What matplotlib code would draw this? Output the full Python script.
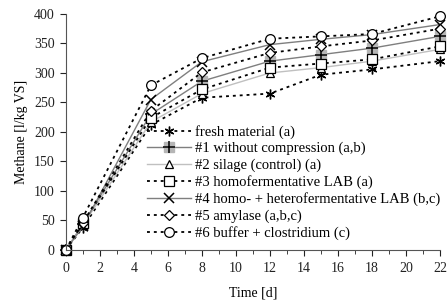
import matplotlib
matplotlib.use("Agg")
import matplotlib.pyplot as plt
from matplotlib.ticker import MultipleLocator
from matplotlib.legend_handler import HandlerTuple

plt.rcParams['font.family'] = ['Liberation Serif', 'DejaVu Serif']

days = [0, 1, 5, 8, 12, 15, 18, 22]
fresh = [0, 38, 212, 258, 265, 297, 306, 320]
no_comp = [0, 44, 230, 286, 320, 331, 342, 362]
silage = [0, 42, 217, 265, 300, 309, 320, 340]
homo = [0, 45, 224, 272, 309, 316, 323, 345]
homo_hetero = [0, 40, 255, 319, 348, 357, 365, 382]
amylase = [0, 46, 236, 301, 334, 345, 355, 375]
buffer = [0, 55, 279, 325, 358, 362, 366, 396]

labels = ["fresh material (a)", "#1 without compression (a,b)", "#2 silage (control) (a)",
          "#3 homofermentative LAB (a)", "#4 homo- + heterofermentative LAB (b,c)",
          "#5 amylase (a,b,c)", "#6 buffer + clostridium (c)"]

fig = plt.figure(figsize=(4.48, 3.03), dpi=100)
ax = fig.add_axes([0.147, 0.175, 0.835, 0.779])

dot = (0, (1.6, 2.2))
ms = 6
common = dict(clip_on=False, markerfacecolor='white', markeredgecolor='black', markeredgewidth=0.9)

h0, = ax.plot(days, fresh, color='black', ls=dot, lw=1.3, marker=(6, 2, 0), ms=7, clip_on=False,
              markeredgecolor='black', markeredgewidth=1.0)
h1a, = ax.plot(days, no_comp, color='#7f7f7f', ls='-', lw=1.0, marker='s', ms=6.5, clip_on=False,
               markerfacecolor='#b5b5b5', markeredgecolor='#b5b5b5')
h1b, = ax.plot(days, no_comp, ls='none', marker='+', ms=8, clip_on=False,
               markeredgecolor='black', markeredgewidth=1.1)
h2, = ax.plot(days, silage, color='#c0c0c0', ls='-', lw=1.0, marker='^', ms=ms, **common)
h3, = ax.plot(days, homo, color='black', ls=dot, lw=1.3, marker='s', ms=ms + 0.5, **common)
h4, = ax.plot(days, homo_hetero, color='#7f7f7f', ls='-', lw=1.0, marker='x', ms=7, clip_on=False,
              markeredgecolor='black', markeredgewidth=1.1)
h5, = ax.plot(days, amylase, color='black', ls=dot, lw=1.3, marker='D', ms=5, **common)
h6, = ax.plot(days, buffer, color='black', ls=dot, lw=1.3, marker='o', ms=ms + 1, **common)

ax.set_xlim(0, 22)
ax.set_ylim(0, 400)
ax.xaxis.set_major_locator(MultipleLocator(2))
ax.xaxis.set_minor_locator(MultipleLocator(1))
ax.yaxis.set_major_locator(MultipleLocator(50))
for s in ['top', 'right']:
    ax.spines[s].set_visible(False)
for s in ['left', 'bottom']:
    ax.spines[s].set_color('#555555')
ax.tick_params(axis='both', which='both', direction='out', labelsize=10, colors='#222222')
ax.tick_params(axis='x', which='major', length=4, pad=5)
ax.tick_params(axis='x', which='minor', length=3)
ax.tick_params(axis='y', which='major', length=4, pad=4)

ax.set_xlabel('Time [d]', fontsize=10, labelpad=8)
ax.set_ylabel('Methane [l/kg VS]', fontsize=10, labelpad=4)

leg = fig.legend([h0, (h1a, h1b), h2, h3, h4, h5, h6], labels,
                 handler_map={tuple: HandlerTuple(ndivide=1, pad=0)}, numpoints=1,
                 loc='upper left', bbox_to_anchor=(0.328, 0.588), frameon=False,
                 fontsize=10.5, handlelength=3.0, handletextpad=0.3, labelspacing=0.22,
                 borderaxespad=0, borderpad=0)

fig.savefig('out.png', dpi=100)
